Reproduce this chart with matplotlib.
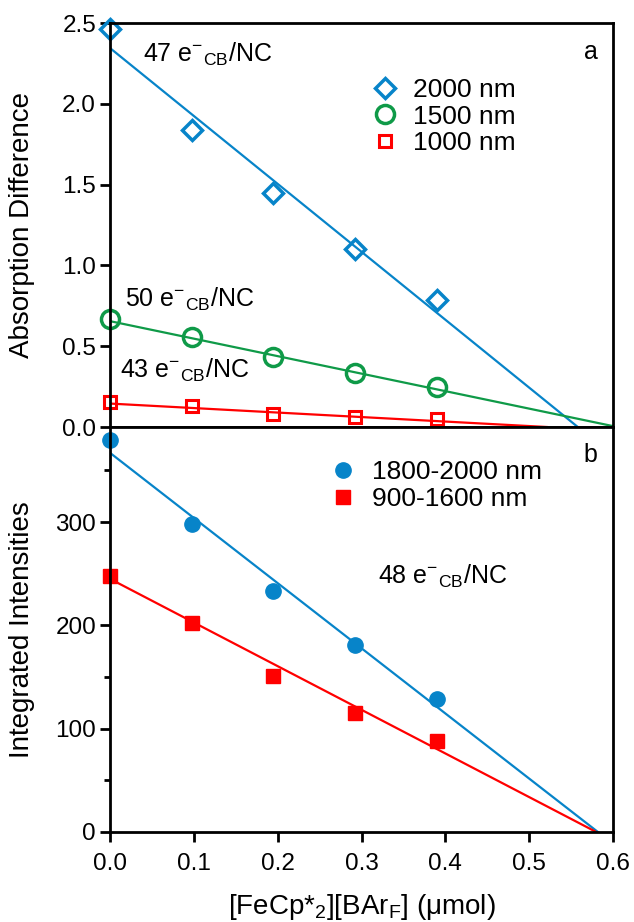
import matplotlib
matplotlib.use("Agg")
import matplotlib.pyplot as plt
from matplotlib.ticker import MultipleLocator, FormatStrFormatter

plt.rcParams['font.family'] = ['Liberation Sans', 'DejaVu Sans']
plt.rcParams['mathtext.fontset'] = 'custom'
plt.rcParams['mathtext.rm'] = 'Liberation Sans'
plt.rcParams['mathtext.it'] = 'Liberation Sans:italic'

# data
x_umol = [0.0, 0.098, 0.195, 0.292, 0.390]

abs_2000 = [2.46, 1.84, 1.45, 1.10, 0.786]
abs_1500 = [0.668, 0.557, 0.433, 0.334, 0.248]
abs_1000 = [0.155, 0.130, 0.080, 0.062, 0.050]

int_1800_2000 = [379, 298, 233, 181, 129]
int_900_1600 = [248, 202, 151, 115, 88]

# fitted lines (end points)
fit_2000_x, fit_2000_y = [0.0, 0.558], [2.345, 0.0]
fit_1500_x, fit_1500_y = [0.0, 0.605], [0.655, 0.0]
fit_1000_x, fit_1000_y = [0.0, 0.521], [0.145, 0.0]
fit_b_blue_x, fit_b_blue_y = [0.0, 0.582], [367, 0.0]
fit_b_red_x, fit_b_red_y = [0.0, 0.580], [245, 0.0]

blue = '#0784c9'
green = '#0f9a48'
red = '#ff0000'

fig = plt.figure(figsize=(6.34, 9.22), dpi=100)
ax1 = fig.add_axes([110/634, 1-427/922, 503/634, 404/922])
ax2 = fig.add_axes([110/634, 1-832/922, 503/634, 405/922], sharex=ax1)

for ax in (ax1, ax2):
    for s in ax.spines.values():
        s.set_linewidth(2.0)
    ax.tick_params(direction='out', width=2.0, length=7, labelsize=17.5)
    ax.tick_params(axis='y', pad=3)
    ax.tick_params(axis='x', pad=8)

# panel a
ax1.plot(fit_2000_x, fit_2000_y, color=blue, lw=1.6)
ax1.plot(fit_1500_x, fit_1500_y, color=green, lw=1.6)
ax1.plot(fit_1000_x, fit_1000_y, color=red, lw=1.6)
ax1.plot(x_umol, abs_2000, 'D', ms=10, mfc='none', mec=blue, mew=2.5, ls='none', label='2000 nm', clip_on=False)
ax1.plot(x_umol, abs_1500, 'o', ms=13, mfc='none', mec=green, mew=2.5, ls='none', label='1500 nm', clip_on=False)
ax1.plot(x_umol, abs_1000, 's', ms=9, mfc='none', mec=red, mew=2.2, ls='none', label='1000 nm', clip_on=False)
ax1.set_xlim(0, 0.6)
ax1.set_ylim(0, 2.5)
ax1.yaxis.set_major_locator(MultipleLocator(0.5))
ax1.yaxis.set_major_formatter(FormatStrFormatter('%.1f'))
ax1.tick_params(axis='x', bottom=False, labelbottom=False)
ax1.set_ylabel('Absorption Difference', fontsize=20)
ax1.yaxis.set_label_coords(-0.149, 0.5)

ax1.text(0.039, 2.26, r'47 e$^{-}$$_{\mathrm{CB}}$/NC', fontsize=18, va='baseline')
ax1.text(0.018, 0.743, r'50 e$^{-}$$_{\mathrm{CB}}$/NC', fontsize=18, va='baseline')
ax1.text(0.012, 0.303, r'43 e$^{-}$$_{\mathrm{CB}}$/NC', fontsize=18, va='baseline')
ax1.text(0.565, 2.277, 'a', fontsize=18, va='baseline')

ax1.legend(loc='upper left', bbox_to_anchor=(0.521, 0.864), frameon=False, fontsize=19,
           handlelength=1, handletextpad=0.57, labelspacing=0.1, borderpad=0,
           borderaxespad=0)

# panel b
ax2.plot(fit_b_blue_x, fit_b_blue_y, color=blue, lw=1.6)
ax2.plot(fit_b_red_x, fit_b_red_y, color=red, lw=1.6)
ax2.plot(x_umol, int_1800_2000, 'o', ms=11, color=blue, ls='none', label='1800-2000 nm', clip_on=False)
ax2.plot(x_umol, int_900_1600, 's', ms=10, color=red, ls='none', label='900-1600 nm', clip_on=False)
ax2.set_ylim(0, 392)
ax2.yaxis.set_major_locator(MultipleLocator(100))
ax2.yaxis.set_minor_locator(MultipleLocator(50))
ax2.tick_params(axis='y', which='minor', direction='out', width=2.0, length=4)
ax2.xaxis.set_major_locator(MultipleLocator(0.1))
ax2.xaxis.set_major_formatter(FormatStrFormatter('%.1f'))
ax2.set_ylabel('Integrated Intensities', fontsize=20)
ax2.yaxis.set_label_coords(-0.149, 0.5)
ax2.set_xlabel(r'[FeCp*$_2$][BAr$_\mathrm{F}$] (μmol)', fontsize=20, labelpad=12)

ax2.text(0.32, 240.6, r'48 e$^{-}$$_{\mathrm{CB}}$/NC', fontsize=18, va='baseline')
ax2.text(0.565, 358, 'b', fontsize=18, va='baseline')

ax2.legend(loc='upper left', bbox_to_anchor=(0.437, 0.918), frameon=False, fontsize=19,
           handlelength=1, handletextpad=0.6, labelspacing=0.1, borderpad=0,
           borderaxespad=0)

fig.savefig('out.png', dpi=100)
